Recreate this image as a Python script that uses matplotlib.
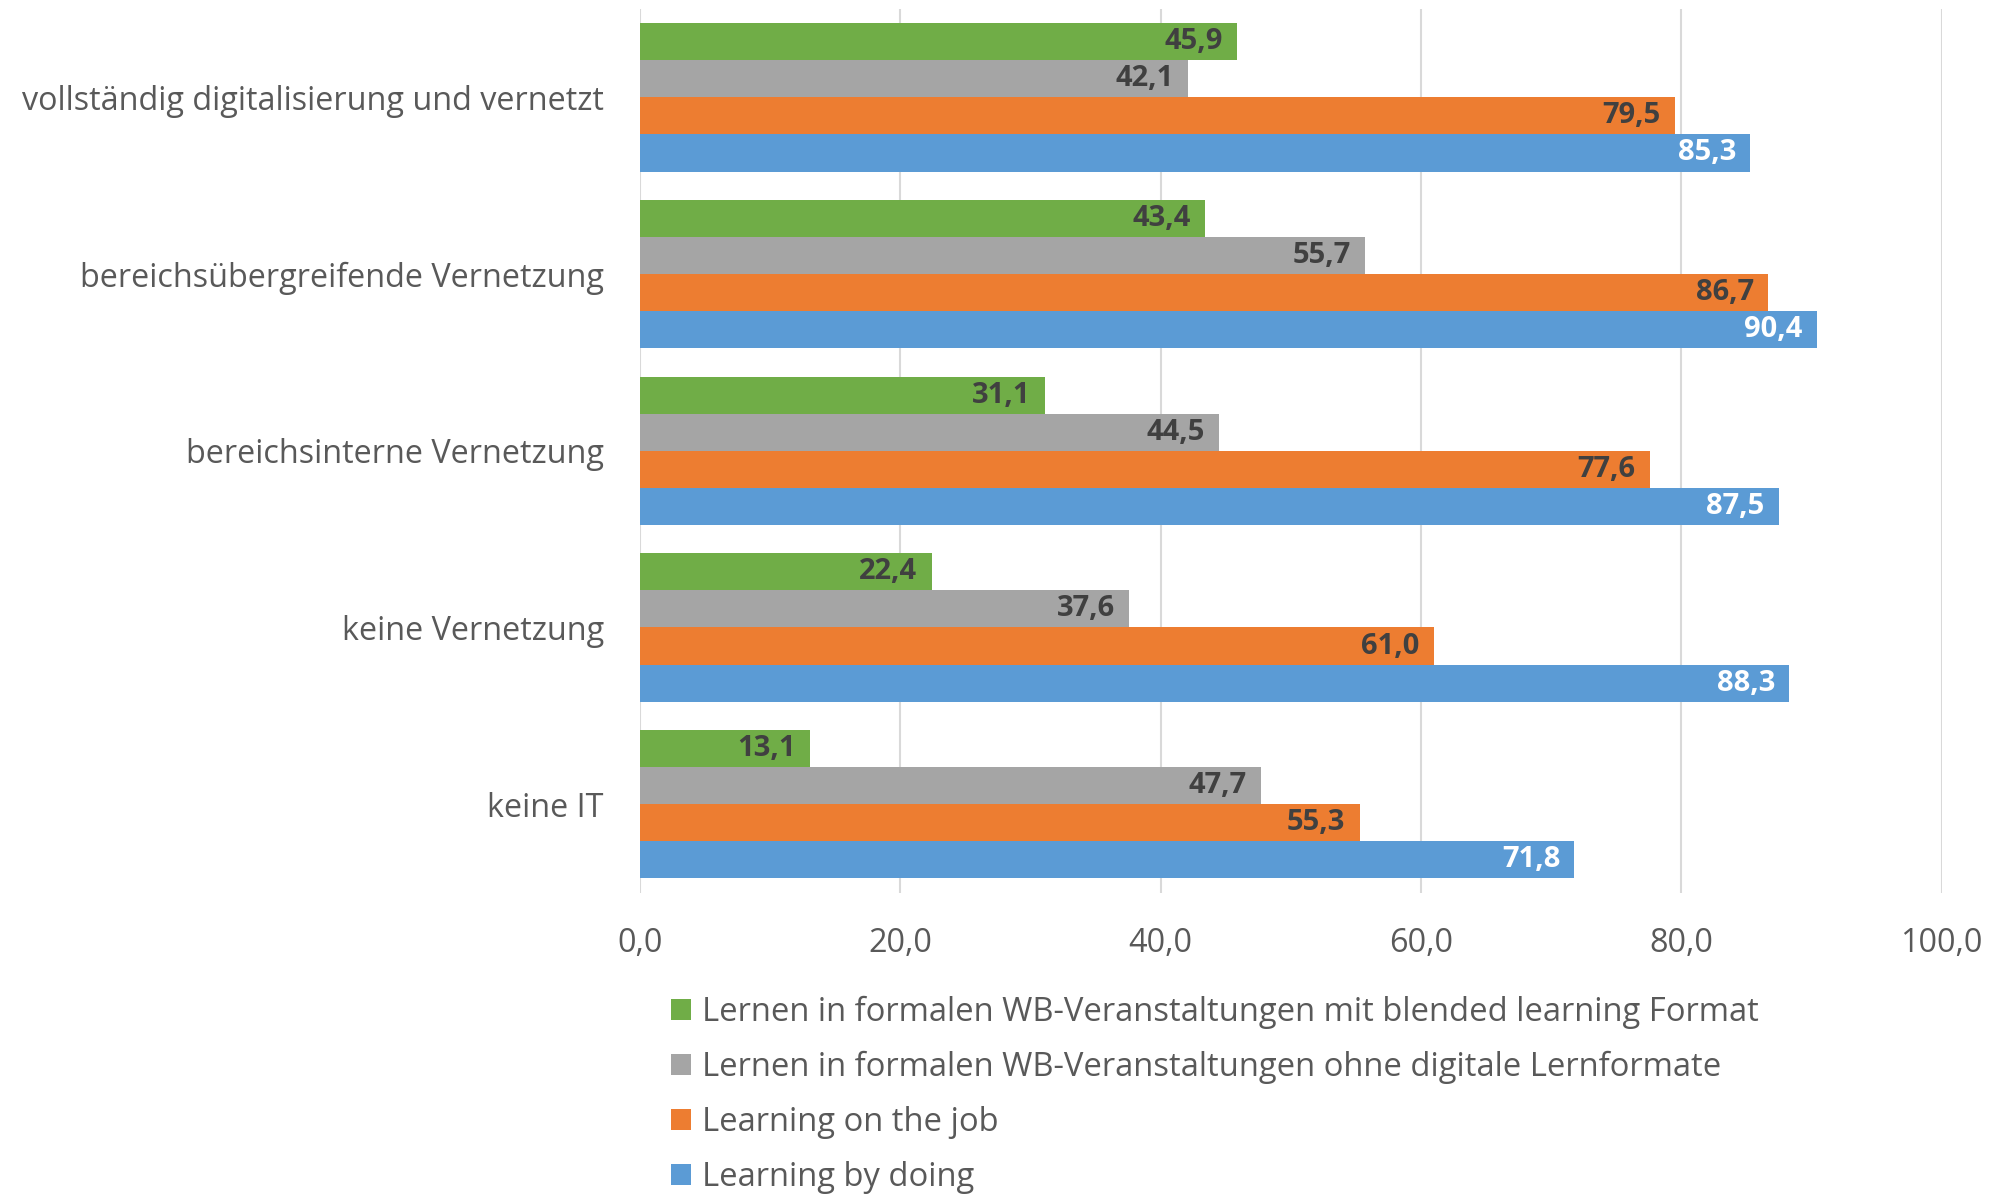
import matplotlib
matplotlib.use("Agg")
import matplotlib.pyplot as plt
from matplotlib.patches import Patch
import numpy as np

plt.rcParams['font.family'] = ['Open Sans', 'DejaVu Sans']

categories = ["vollständig digitalisierung und vernetzt",
              "bereichsübergreifende Vernetzung",
              "bereichsinterne Vernetzung",
              "keine Vernetzung",
              "keine IT"]
series_names = ["Lernen in formalen WB-Veranstaltungen mit blended learning Format",
                "Lernen in formalen WB-Veranstaltungen ohne digitale Lernformate",
                "Learning on the job",
                "Learning by doing"]
blended = [45.9, 43.4, 31.1, 22.4, 13.1]
ohne_digital = [42.1, 55.7, 44.5, 37.6, 47.7]
on_the_job = [79.5, 86.7, 77.6, 61.0, 55.3]
by_doing = [85.3, 90.4, 87.5, 88.3, 71.8]
xticks = [0, 20, 40, 60, 80, 100]

colors = ["#70AD47", "#A5A5A5", "#ED7D31", "#5B9BD5"]
label_colors = ["#404040", "#404040", "#404040", "#FFFFFF"]
series = [blended, ohne_digital, on_the_job, by_doing]

fig = plt.figure(figsize=(20.08, 11.94), dpi=100)
ax = fig.add_axes([0.3187, 0.2525, 0.6482, 0.740])

n = len(categories)
bh = 0.210
y = np.arange(n)
for i, (vals, c, lc) in enumerate(zip(series, colors, label_colors)):
    pos = y + (i - 1.5) * bh
    bars = ax.barh(pos, vals, height=bh, color=c, zorder=2)
    for b, v in zip(bars, vals):
        ax.text(v - 1.1, b.get_y() + b.get_height() / 2,
                f"{v:.1f}".replace(".", ","), ha="right", va="center",
                fontsize=21, fontweight="bold", color=lc, zorder=3)

ax.set_ylim(n - 0.5, -0.5)
ax.set_xlim(0, 100)
ax.set_xticks(xticks)
ax.set_xticklabels([f"{t:.1f}".replace(".", ",") for t in xticks])
ax.set_yticks(y)
ax.set_yticklabels(categories)
ax.tick_params(axis="both", length=0, labelsize=23.3, colors="#595959")
ax.tick_params(axis="x", pad=25)
ax.tick_params(axis="y", pad=26)
for s in ax.spines.values():
    s.set_visible(False)
ax.xaxis.grid(True, color="#D9D9D9", linewidth=1.5, zorder=0)
ax.set_axisbelow(True)

handles = [Patch(facecolor=c, edgecolor="none") for c in colors]
fig.legend(handles, series_names, loc="upper left",
           bbox_to_anchor=(0.334, 0.166), frameon=False,
           fontsize=23.6, labelcolor="#595959", handlelength=0.62,
           handleheight=0.62, handletextpad=0.35, labelspacing=0.67,
           borderaxespad=0, borderpad=0)
fig.savefig("out.png", dpi=100)
